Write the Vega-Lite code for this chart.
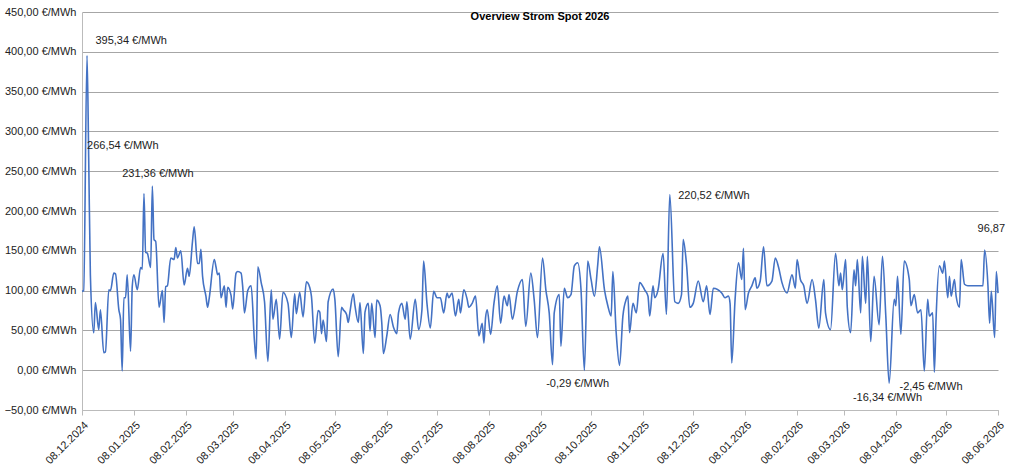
{
  "$schema": "https://vega.github.io/schema/vega-lite/v6.json",
  "width": 1024,
  "height": 468,
  "autosize": {"type": "fit", "contains": "padding"},
  "padding": {"left": 4, "right": 18, "top": 6, "bottom": 2},
  "background": "white",
  "config": {
    "font": "Liberation Sans",
    "view": {"stroke": null},
    "axis": {"labelFont": "Liberation Sans", "labelFontSize": 11, "labelColor": "#222", "titleFontSize": 11}
  },
  "title": {"text": "Overview Strom Spot 2026", "fontSize": 11, "fontWeight": "bold", "font": "Liberation Sans", "anchor": "middle", "offset": -16, "color": "#000"},
  "datasets": {
    "spot": [
      {"date": "2024-12-08", "price": 99}, {"date": "2024-12-09", "price": 100}, {"date": "2024-12-11", "price": 395.34},
      {"date": "2024-12-12", "price": 266.54}, {"date": "2024-12-13", "price": 120}, {"date": "2024-12-15", "price": 47},
      {"date": "2024-12-16", "price": 85}, {"date": "2024-12-18", "price": 51}, {"date": "2024-12-19", "price": 76},
      {"date": "2024-12-21", "price": 22}, {"date": "2024-12-22", "price": 23}, {"date": "2024-12-24", "price": 101},
      {"date": "2024-12-25", "price": 100}, {"date": "2024-12-27", "price": 122}, {"date": "2024-12-28", "price": 121},
      {"date": "2024-12-30", "price": 76}, {"date": "2024-12-31", "price": 64}, {"date": "2025-01-01", "price": -1},
      {"date": "2025-01-02", "price": 91}, {"date": "2025-01-03", "price": 91}, {"date": "2025-01-04", "price": 120},
      {"date": "2025-01-06", "price": 24}, {"date": "2025-01-07", "price": 105}, {"date": "2025-01-08", "price": 120},
      {"date": "2025-01-10", "price": 101}, {"date": "2025-01-12", "price": 129}, {"date": "2025-01-13", "price": 127},
      {"date": "2025-01-14", "price": 222}, {"date": "2025-01-15", "price": 148}, {"date": "2025-01-16", "price": 147},
      {"date": "2025-01-18", "price": 129}, {"date": "2025-01-19", "price": 231.36}, {"date": "2025-01-20", "price": 164},
      {"date": "2025-01-21", "price": 162}, {"date": "2025-01-23", "price": 79}, {"date": "2025-01-25", "price": 100},
      {"date": "2025-01-26", "price": 60}, {"date": "2025-01-27", "price": 105}, {"date": "2025-01-28", "price": 106},
      {"date": "2025-01-30", "price": 141}, {"date": "2025-02-01", "price": 139}, {"date": "2025-02-02", "price": 154},
      {"date": "2025-02-03", "price": 141}, {"date": "2025-02-05", "price": 150}, {"date": "2025-02-07", "price": 107},
      {"date": "2025-02-09", "price": 128}, {"date": "2025-02-10", "price": 118}, {"date": "2025-02-12", "price": 162},
      {"date": "2025-02-13", "price": 180}, {"date": "2025-02-15", "price": 134}, {"date": "2025-02-16", "price": 134},
      {"date": "2025-02-17", "price": 152}, {"date": "2025-02-18", "price": 118}, {"date": "2025-02-20", "price": 93},
      {"date": "2025-02-21", "price": 79}, {"date": "2025-02-22", "price": 91}, {"date": "2025-02-25", "price": 139},
      {"date": "2025-02-26", "price": 130}, {"date": "2025-02-27", "price": 120}, {"date": "2025-02-28", "price": 122},
      {"date": "2025-03-01", "price": 91}, {"date": "2025-03-03", "price": 106}, {"date": "2025-03-04", "price": 79},
      {"date": "2025-03-05", "price": 104}, {"date": "2025-03-07", "price": 94}, {"date": "2025-03-08", "price": 77},
      {"date": "2025-03-10", "price": 122}, {"date": "2025-03-11", "price": 124}, {"date": "2025-03-13", "price": 122},
      {"date": "2025-03-14", "price": 104}, {"date": "2025-03-15", "price": 72}, {"date": "2025-03-17", "price": 100},
      {"date": "2025-03-19", "price": 106}, {"date": "2025-03-21", "price": 36}, {"date": "2025-03-22", "price": 14},
      {"date": "2025-03-23", "price": 130}, {"date": "2025-03-25", "price": 110}, {"date": "2025-03-27", "price": 86},
      {"date": "2025-03-29", "price": 11}, {"date": "2025-03-31", "price": 101}, {"date": "2025-04-01", "price": 64},
      {"date": "2025-04-03", "price": 89}, {"date": "2025-04-05", "price": 39}, {"date": "2025-04-07", "price": 98},
      {"date": "2025-04-10", "price": 84}, {"date": "2025-04-12", "price": 41}, {"date": "2025-04-14", "price": 96},
      {"date": "2025-04-15", "price": 71}, {"date": "2025-04-17", "price": 98}, {"date": "2025-04-19", "price": 67},
      {"date": "2025-04-21", "price": 111}, {"date": "2025-04-23", "price": 104}, {"date": "2025-04-24", "price": 93},
      {"date": "2025-04-26", "price": 34}, {"date": "2025-04-28", "price": 75}, {"date": "2025-04-29", "price": 73},
      {"date": "2025-04-30", "price": 46}, {"date": "2025-05-01", "price": 63}, {"date": "2025-05-03", "price": 36},
      {"date": "2025-05-04", "price": 86}, {"date": "2025-05-07", "price": 102}, {"date": "2025-05-08", "price": 89},
      {"date": "2025-05-10", "price": 17}, {"date": "2025-05-12", "price": 79}, {"date": "2025-05-13", "price": 76},
      {"date": "2025-05-15", "price": 70}, {"date": "2025-05-16", "price": 60}, {"date": "2025-05-17", "price": 73},
      {"date": "2025-05-19", "price": 96}, {"date": "2025-05-20", "price": 81}, {"date": "2025-05-22", "price": 60},
      {"date": "2025-05-23", "price": 85}, {"date": "2025-05-25", "price": 21}, {"date": "2025-05-26", "price": 73},
      {"date": "2025-05-28", "price": 84}, {"date": "2025-05-29", "price": 49}, {"date": "2025-05-30", "price": 84},
      {"date": "2025-06-01", "price": 41}, {"date": "2025-06-02", "price": 88}, {"date": "2025-06-04", "price": 81},
      {"date": "2025-06-05", "price": 60}, {"date": "2025-06-06", "price": 21}, {"date": "2025-06-08", "price": 43},
      {"date": "2025-06-10", "price": 70}, {"date": "2025-06-12", "price": 54}, {"date": "2025-06-14", "price": 46},
      {"date": "2025-06-15", "price": 72}, {"date": "2025-06-17", "price": 84}, {"date": "2025-06-19", "price": 64},
      {"date": "2025-06-20", "price": 86}, {"date": "2025-06-22", "price": 39}, {"date": "2025-06-25", "price": 89},
      {"date": "2025-06-27", "price": 51}, {"date": "2025-06-29", "price": 76}, {"date": "2025-06-30", "price": 137},
      {"date": "2025-07-02", "price": 84}, {"date": "2025-07-04", "price": 53}, {"date": "2025-07-06", "price": 99},
      {"date": "2025-07-08", "price": 91}, {"date": "2025-07-10", "price": 91}, {"date": "2025-07-12", "price": 72},
      {"date": "2025-07-14", "price": 97}, {"date": "2025-07-15", "price": 91}, {"date": "2025-07-17", "price": 97},
      {"date": "2025-07-19", "price": 68}, {"date": "2025-07-21", "price": 89}, {"date": "2025-07-22", "price": 72},
      {"date": "2025-07-24", "price": 101}, {"date": "2025-07-26", "price": 89}, {"date": "2025-07-27", "price": 79},
      {"date": "2025-07-29", "price": 84}, {"date": "2025-07-31", "price": 93}, {"date": "2025-08-02", "price": 43},
      {"date": "2025-08-04", "price": 59}, {"date": "2025-08-05", "price": 34}, {"date": "2025-08-06", "price": 66},
      {"date": "2025-08-07", "price": 76}, {"date": "2025-08-09", "price": 45}, {"date": "2025-08-11", "price": 84},
      {"date": "2025-08-13", "price": 106}, {"date": "2025-08-15", "price": 59}, {"date": "2025-08-17", "price": 93},
      {"date": "2025-08-19", "price": 81}, {"date": "2025-08-20", "price": 95}, {"date": "2025-08-22", "price": 64},
      {"date": "2025-08-25", "price": 99}, {"date": "2025-08-28", "price": 114}, {"date": "2025-08-30", "price": 55},
      {"date": "2025-09-02", "price": 122}, {"date": "2025-09-04", "price": 89}, {"date": "2025-09-06", "price": 41},
      {"date": "2025-09-09", "price": 141}, {"date": "2025-09-11", "price": 101}, {"date": "2025-09-13", "price": 72},
      {"date": "2025-09-15", "price": 7}, {"date": "2025-09-16", "price": 72}, {"date": "2025-09-19", "price": 95},
      {"date": "2025-09-20", "price": 30}, {"date": "2025-09-22", "price": 103}, {"date": "2025-09-24", "price": 91},
      {"date": "2025-09-26", "price": 95}, {"date": "2025-09-28", "price": 131}, {"date": "2025-09-30", "price": 135},
      {"date": "2025-10-02", "price": 101}, {"date": "2025-10-04", "price": -0.29}, {"date": "2025-10-06", "price": 137},
      {"date": "2025-10-08", "price": 114}, {"date": "2025-10-10", "price": 93}, {"date": "2025-10-12", "price": 133},
      {"date": "2025-10-13", "price": 155}, {"date": "2025-10-16", "price": 101}, {"date": "2025-10-18", "price": 81},
      {"date": "2025-10-20", "price": 68}, {"date": "2025-10-21", "price": 124}, {"date": "2025-10-23", "price": 47},
      {"date": "2025-10-25", "price": 6}, {"date": "2025-10-27", "price": 68}, {"date": "2025-10-29", "price": 89},
      {"date": "2025-10-30", "price": 93}, {"date": "2025-10-31", "price": 47}, {"date": "2025-11-02", "price": 84},
      {"date": "2025-11-04", "price": 72}, {"date": "2025-11-06", "price": 110}, {"date": "2025-11-09", "price": 101},
      {"date": "2025-11-11", "price": 93}, {"date": "2025-11-12", "price": 68}, {"date": "2025-11-14", "price": 106},
      {"date": "2025-11-15", "price": 91}, {"date": "2025-11-17", "price": 101}, {"date": "2025-11-20", "price": 147},
      {"date": "2025-11-22", "price": 70}, {"date": "2025-11-24", "price": 220.52}, {"date": "2025-11-27", "price": 86},
      {"date": "2025-11-29", "price": 84}, {"date": "2025-12-01", "price": 95}, {"date": "2025-12-02", "price": 164},
      {"date": "2025-12-04", "price": 133}, {"date": "2025-12-06", "price": 79}, {"date": "2025-12-08", "price": 84},
      {"date": "2025-12-11", "price": 112}, {"date": "2025-12-14", "price": 86}, {"date": "2025-12-16", "price": 106},
      {"date": "2025-12-18", "price": 70}, {"date": "2025-12-20", "price": 103}, {"date": "2025-12-25", "price": 97},
      {"date": "2025-12-27", "price": 91}, {"date": "2025-12-29", "price": 93}, {"date": "2025-12-30", "price": 84},
      {"date": "2025-12-31", "price": 9}, {"date": "2026-01-02", "price": 89}, {"date": "2026-01-04", "price": 135},
      {"date": "2026-01-06", "price": 114}, {"date": "2026-01-07", "price": 153}, {"date": "2026-01-08", "price": 76},
      {"date": "2026-01-10", "price": 97}, {"date": "2026-01-12", "price": 106}, {"date": "2026-01-14", "price": 116},
      {"date": "2026-01-15", "price": 103}, {"date": "2026-01-17", "price": 112}, {"date": "2026-01-19", "price": 155},
      {"date": "2026-01-21", "price": 106}, {"date": "2026-01-24", "price": 112}, {"date": "2026-01-26", "price": 141},
      {"date": "2026-01-28", "price": 129}, {"date": "2026-01-30", "price": 110}, {"date": "2026-02-02", "price": 97},
      {"date": "2026-02-05", "price": 120}, {"date": "2026-02-07", "price": 103}, {"date": "2026-02-08", "price": 139},
      {"date": "2026-02-10", "price": 114}, {"date": "2026-02-12", "price": 106}, {"date": "2026-02-14", "price": 84},
      {"date": "2026-02-17", "price": 114}, {"date": "2026-02-19", "price": 89}, {"date": "2026-02-21", "price": 53},
      {"date": "2026-02-24", "price": 114}, {"date": "2026-02-25", "price": 72}, {"date": "2026-02-28", "price": 51},
      {"date": "2026-03-03", "price": 147}, {"date": "2026-03-05", "price": 106}, {"date": "2026-03-06", "price": 122},
      {"date": "2026-03-07", "price": 101}, {"date": "2026-03-09", "price": 139}, {"date": "2026-03-10", "price": 79},
      {"date": "2026-03-12", "price": 47}, {"date": "2026-03-14", "price": 126}, {"date": "2026-03-15", "price": 106},
      {"date": "2026-03-16", "price": 139}, {"date": "2026-03-18", "price": 72}, {"date": "2026-03-19", "price": 143},
      {"date": "2026-03-21", "price": 84}, {"date": "2026-03-22", "price": 143}, {"date": "2026-03-24", "price": 36},
      {"date": "2026-03-26", "price": 118}, {"date": "2026-03-29", "price": 57}, {"date": "2026-03-31", "price": 143},
      {"date": "2026-04-02", "price": 68}, {"date": "2026-04-04", "price": -16.34}, {"date": "2026-04-07", "price": 89},
      {"date": "2026-04-08", "price": 81}, {"date": "2026-04-09", "price": 118}, {"date": "2026-04-11", "price": 45},
      {"date": "2026-04-13", "price": 137}, {"date": "2026-04-16", "price": 114}, {"date": "2026-04-17", "price": 81},
      {"date": "2026-04-19", "price": 95}, {"date": "2026-04-21", "price": 72}, {"date": "2026-04-23", "price": 76},
      {"date": "2026-04-25", "price": -1}, {"date": "2026-04-27", "price": 89}, {"date": "2026-04-28", "price": 68},
      {"date": "2026-04-30", "price": 72}, {"date": "2026-05-01", "price": -2.45}, {"date": "2026-05-02", "price": 64},
      {"date": "2026-05-04", "price": 131}, {"date": "2026-05-06", "price": 122}, {"date": "2026-05-07", "price": 137},
      {"date": "2026-05-09", "price": 91}, {"date": "2026-05-10", "price": 118}, {"date": "2026-05-11", "price": 93},
      {"date": "2026-05-13", "price": 114}, {"date": "2026-05-14", "price": 93}, {"date": "2026-05-16", "price": 79},
      {"date": "2026-05-17", "price": 139}, {"date": "2026-05-19", "price": 108}, {"date": "2026-05-21", "price": 106},
      {"date": "2026-05-30", "price": 106}, {"date": "2026-05-31", "price": 151}, {"date": "2026-06-02", "price": 106},
      {"date": "2026-06-03", "price": 59}, {"date": "2026-06-04", "price": 99}, {"date": "2026-06-06", "price": 41},
      {"date": "2026-06-07", "price": 124}, {"date": "2026-06-08", "price": 96.87}
    ],
    "notesLeft": [
      {"date": "2024-12-16", "price": 414, "label": "395,34 €/MWh"},
      {"date": "2024-12-11", "price": 282, "label": "266,54 €/MWh"},
      {"date": "2025-01-01", "price": 247, "label": "231,36 €/MWh"},
      {"date": "2025-11-29", "price": 219, "label": "220,52 €/MWh"}
    ],
    "notesCenter": [
      {"date": "2025-09-30", "price": -17, "label": "-0,29 €/MWh"},
      {"date": "2026-04-03", "price": -35, "label": "-16,34 €/MWh"},
      {"date": "2026-04-29", "price": -21, "label": "-2,45 €/MWh"},
      {"date": "2026-06-04", "price": 177, "label": "96,87"}
    ]
  },
  "encoding": {
    "x": {
      "field": "date",
      "type": "temporal",
      "title": null,
      "scale": {"type": "utc", "domain": [{"year": 2024, "month": 12, "date": 8, "utc": true}, {"year": 2026, "month": 6, "date": 8, "utc": true}]},
      "axis": {
        "format": "%d.%m.%Y",
        "labelAngle": -45,
        "grid": false,
        "domainColor": "#bbb",
        "tickColor": "#bbb",
        "labelPadding": 4,
        "values": [
          {"year": 2024, "month": 12, "date": 8, "utc": true},
          {"year": 2025, "month": 1, "date": 8, "utc": true},
          {"year": 2025, "month": 2, "date": 8, "utc": true},
          {"year": 2025, "month": 3, "date": 8, "utc": true},
          {"year": 2025, "month": 4, "date": 8, "utc": true},
          {"year": 2025, "month": 5, "date": 8, "utc": true},
          {"year": 2025, "month": 6, "date": 8, "utc": true},
          {"year": 2025, "month": 7, "date": 8, "utc": true},
          {"year": 2025, "month": 8, "date": 8, "utc": true},
          {"year": 2025, "month": 9, "date": 8, "utc": true},
          {"year": 2025, "month": 10, "date": 8, "utc": true},
          {"year": 2025, "month": 11, "date": 8, "utc": true},
          {"year": 2025, "month": 12, "date": 8, "utc": true},
          {"year": 2026, "month": 1, "date": 8, "utc": true},
          {"year": 2026, "month": 2, "date": 8, "utc": true},
          {"year": 2026, "month": 3, "date": 8, "utc": true},
          {"year": 2026, "month": 4, "date": 8, "utc": true},
          {"year": 2026, "month": 5, "date": 8, "utc": true},
          {"year": 2026, "month": 6, "date": 8, "utc": true}
        ]
      }
    },
    "y": {
      "field": "price",
      "type": "quantitative",
      "title": null,
      "scale": {"domain": [-50, 450], "nice": false},
      "axis": {
        "values": [-50, 0, 50, 100, 150, 200, 250, 300, 350, 400, 450],
        "labelExpr": "replace(format(datum.value, '.2f'), '.', ',') + ' €/MWh'",
        "gridColor": "#a6a6a6",
        "gridWidth": 1.2,
        "domainColor": "#bbb",
        "ticks": false,
        "labelPadding": 6
      }
    }
  },
  "layer": [
    {
      "data": {"name": "spot"},
      "mark": {"type": "line", "color": "#4472c4", "strokeWidth": 1.6, "interpolate": "monotone"}
    },
    {
      "data": {"name": "notesLeft"},
      "mark": {"type": "text", "fontSize": 11, "color": "#222", "baseline": "middle", "align": "left"},
      "encoding": {"text": {"field": "label"}}
    },
    {
      "data": {"name": "notesCenter"},
      "mark": {"type": "text", "fontSize": 11, "color": "#222", "baseline": "middle", "align": "center"},
      "encoding": {"text": {"field": "label"}}
    }
  ]
}
